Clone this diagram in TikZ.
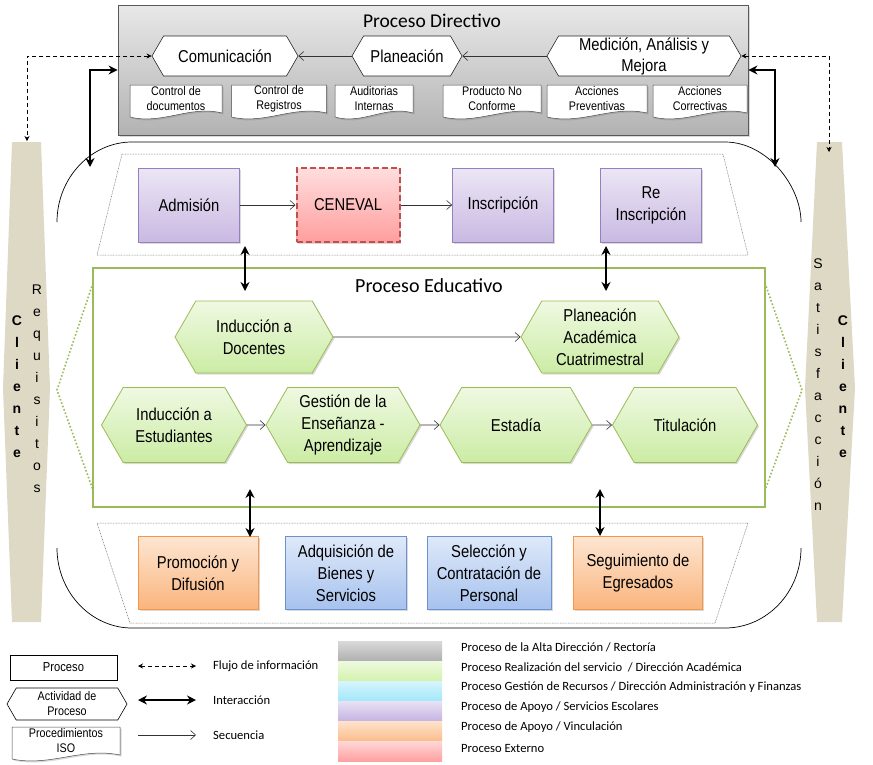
\documentclass[tikz,border=0pt]{standalone}
\usepackage{fontspec}
\setmainfont{Liberation Sans}
\newfontfamily\narrowfont{Liberation Sans}[FakeStretch=0.86]
\newfontfamily\calfont{Carlito}
\usetikzlibrary{arrows.meta,shapes.symbols,shadows,positioning}

\definecolor{purpTop}{HTML}{ECE6F5}
\definecolor{purpBot}{HTML}{C9B9E2}
\definecolor{purpLine}{HTML}{9580BF}
\definecolor{orTop}{HTML}{FDE6D2}
\definecolor{orBot}{HTML}{FAB47C}
\definecolor{orLine}{HTML}{F79646}
\definecolor{blTop}{HTML}{DFE9F9}
\definecolor{blBot}{HTML}{A6C2EE}
\definecolor{blLine}{HTML}{6A92D2}
\definecolor{redTop}{HTML}{FFDEDE}
\definecolor{redBot}{HTML}{FF9E9E}
\definecolor{redLine}{HTML}{C0504D}
\definecolor{grTop}{HTML}{EFF9E2}
\definecolor{grBot}{HTML}{CBECA4}
\definecolor{grLine}{HTML}{9BBB59}
\definecolor{beige}{HTML}{DDD9C4}

\begin{document}
\begin{tikzpicture}[x=1pt,y=-1pt,
  sombra/.style={drop shadow={opacity=0.3,shadow xshift=1.5pt,shadow yshift=-1.5pt}},
  boxtext/.style={font=\narrowfont\fontsize{17.2}{22}\selectfont, align=center, inner sep=1pt},
  escolar/.style={boxtext, sombra, draw=purpLine, line width=0.8pt, top color=purpTop, bottom color=purpBot, minimum width=101, minimum height=74},
  externo/.style={boxtext, sombra, draw=redLine, line width=2pt, dash pattern=on 6pt off 3pt, top color=redTop, bottom color=redBot, minimum width=103, minimum height=74},
  vincula/.style={boxtext, sombra, draw=orLine, line width=0.8pt, top color=orTop, bottom color=orBot, minimum height=73},
  recurso/.style={boxtext, sombra, draw=blLine, line width=0.8pt, top color=blTop, bottom color=blBot, minimum height=73},
  hexa/.style={shape=signal, signal to=east and west, signal pointer angle=120},
  directa/.style={hexa, boxtext, draw=black!85, fill=white, line width=0.6pt, minimum height=40},
  educa/.style={hexa, boxtext, sombra, draw=grLine, line width=0.8pt, top color=grTop, bottom color=grBot},
  docshape/.style={draw=black!70, fill=white, line width=0.5pt, sombra},
  doctext/.style={font=\narrowfont\fontsize{12.5}{15}\selectfont, align=center, inner sep=1pt},
  trap/.style={draw=black!55, line width=0.5pt, dash pattern=on 0.8pt off 0.8pt},
  seq/.style={-{Straight Barb[length=5pt,width=9pt]}, draw=black!80, line width=0.6pt},
  inter/.style={{Stealth[length=9pt,width=9pt]}-{Stealth[length=9pt,width=9pt]}, line width=1.8pt},
  flujo/.style={{Stealth[length=5pt,width=5pt]}-{Stealth[length=5pt,width=5pt]}, dash pattern=on 4pt off 3pt, line width=0.6pt},
  title/.style={font=\calfont\fontsize{19.5}{22}\selectfont},
  legtext/.style={font=\calfont\fontsize{12.6}{14}\selectfont, anchor=west, inner sep=0pt},
  letras/.style={font=\fontsize{14}{22}\selectfont, align=center, inner sep=0pt}
]
\useasboundingbox (0,0) rectangle (873,764);

% cliente bars
\fill[beige] (12,142) -- (41,142) -- (50,388) -- (41,622) -- (12,622) -- (3,388) -- cycle;
\fill[beige] (817,142) -- (842,142) -- (855,388) -- (842,622) -- (817,622) -- (805,388) -- cycle;
\node[letras, font=\fontsize{14}{22}\selectfont\bfseries] (clil) at (17,387) {C\\l\\i\\e\\n\\t\\e};
\node[letras] (req) at (37,389) {R\\e\\q\\u\\i\\s\\i\\t\\o\\s};
\node[letras] (sat) at (818,385) {S\\a\\t\\i\\s\\f\\a\\c\\c\\i\\ó\\n};
\node[letras, font=\fontsize{14}{22}\selectfont\bfseries] (clir) at (843,387) {C\\l\\i\\e\\n\\t\\e};
\coordinate (cliL) at (27,141);
\coordinate (cliR) at (829,152);

% outer outline
\draw[line width=0.7pt] (57,222) .. controls (57,178) and (91,142) .. (132,142) -- (725,142)
  .. controls (767,142) and (801,186) .. (801,222);
\draw[line width=0.7pt] (57,548) .. controls (57,592) and (91,628) .. (132,628) -- (725,628)
  .. controls (767,628) and (801,592) .. (801,548);

% support zones
\draw[trap] (122,154) -- (723,154) -- (748,255) -- (97,255) -- cycle;
\draw[trap] (97,523) -- (748,523) -- (715,623) -- (130,623) -- cycle;

% proceso directivo
\node[draw=black!65, line width=0.8pt, top color=black!9, bottom color=black!30, sombra,
  minimum width=630, minimum height=130] (dir) at (433,70) {};
\node[title] (dirt) at (432,21) {Proceso Directivo};
\node[directa, minimum width=146] (com) at (225,56) {Comunicación};
\node[directa, minimum width=110] (pla) at (407,56) {Planeación};
\node[directa, minimum width=194, font=\narrowfont\fontsize{17.2}{21}\selectfont] (med) at (644,56) {Medición, Análisis y\\Mejora};
\draw[seq] (pla.west) -- (com.east);
\draw[seq] (med.west) -- (pla.east);

% procedimientos ISO
\foreach \nm/\cx/\w in {cdoc/176/92, creg/279/95, aud/374/78, pnc/492/98, apre/597/100, acor/700/94}{
  \path[docshape] ({\cx-\w/2},85) -- ({\cx+\w/2},85) -- ({\cx+\w/2},113)
    .. controls +({-0.35*\w},-8) and +({0.35*\w},8) .. ({\cx-\w/2},117) -- cycle;
}
\node[doctext] (cdoc-t) at (176,99) {Control de\\documentos};
\node[doctext] (creg-t) at (279,99) {Control de\\Registros};
\node[doctext] (aud-t) at (374,99) {Auditorias\\Internas};
\node[doctext] (pnc-t) at (492,99) {Producto No\\Conforme};
\node[doctext] (apre-t) at (597,99) {Acciones\\Preventivas};
\node[doctext] (acor-t) at (700,99) {Acciones\\Correctivas};

% servicios escolares
\node[escolar] (adm) at (189,205) {Admisión};
\node[externo] (cen) at (348,205) {CENEVAL};
\node[escolar] (ins) at (503,205) {Inscripción};
\node[escolar] (rei) at (651,205) {Re\\Inscripción};
\draw[seq] (adm) -- (cen);
\draw[seq] (cen) -- (ins);

% proceso educativo
\node[draw=grLine, line width=2.5pt, minimum width=672, minimum height=239] (edu) at (429,387.5) {};
\node[title, font=\calfont\fontsize{20}{22}\selectfont] (edut) at (429,286) {Proceso Educativo};
\draw[grLine, line width=1.6pt, dotted] (93,283) -- (57,390) -- (93,490);
\draw[grLine, line width=1.6pt, dotted] (765,283) -- (802,390) -- (765,490);
\node[educa, minimum width=158, minimum height=72] (idoc) at (254,337) {Inducción a\\Docentes};
\node[educa, minimum width=158, minimum height=72] (pac) at (600,337) {Planeación\\Académica\\Cuatrimestral};
\node[educa, minimum width=145, minimum height=75] (iest) at (174,425) {Inducción a\\Estudiantes};
\node[educa, minimum width=154, minimum height=75] (gea) at (343,425) {Gestión de la\\Enseñanza -\\Aprendizaje};
\node[educa, minimum width=152, minimum height=75] (est) at (516,425) {Estadía};
\node[educa, minimum width=145, minimum height=75] (tit) at (685,425) {Titulación};
\draw[seq] (idoc) -- (pac);
\draw[seq] (iest) -- (gea);
\draw[seq] (gea) -- (est);
\draw[seq] (est) -- (tit);

% vinculacion y recursos
\node[vincula, minimum width=120] (prom) at (198,573) {Promoción y\\Difusión};
\node[recurso, minimum width=121] (adq) at (346,573) {Adquisición de\\Bienes y\\Servicios};
\node[recurso, minimum width=124] (sel) at (489,573) {Selección y\\Contratación de\\Personal};
\node[vincula, minimum width=129] (seg) at (638,573) {Seguimiento de\\Egresados};

% interactions
\coordinate (enterL) at (90,167);
\coordinate (enterR) at (775,167);
\draw[inter] (dir.west) -| (enterL);
\draw[inter] (dir.east) -| (enterR);
\draw[flujo] (com.west) -| (cliL);
\draw[flujo] (med.east) -| (cliR);
\coordinate (ia1) at (245,246);
\coordinate (ia2) at (245,291);
\coordinate (ib1) at (606,246);
\coordinate (ib2) at (606,291);
\coordinate (ic1) at (250,489);
\coordinate (ic2) at (250,537);
\coordinate (id1) at (600,489);
\coordinate (id2) at (600,536);
\draw[inter] (ia1) -- (ia2);
\draw[inter] (ib1) -- (ib2);
\draw[inter] (ic1) -- (ic2);
\draw[inter] (id1) -- (id2);

% legend
\node[draw, line width=0.6pt, minimum width=107, minimum height=25, font=\narrowfont\fontsize{13}{15}\selectfont] (lproc) at (63.5,667.5) {Proceso};
\node[hexa, draw, line width=0.6pt, minimum width=120, minimum height=32, inner sep=0pt, align=center,
  font=\narrowfont\fontsize{12.5}{15}\selectfont] (lact) at (67,704) {Actividad de\\Proceso};
\path[docshape] (12,727) -- (120,727) -- (120,755)
  .. controls +(-38,-8) and +(38,8) .. (12,759) -- cycle;
\node[doctext] (liso) at (66,741) {Procedimientos\\ISO};
\coordinate (la1) at (138,666);
\coordinate (lb1) at (196,666);
\coordinate (la2) at (138,700);
\coordinate (lb2) at (196,700);
\coordinate (la3) at (138,735);
\coordinate (lb3) at (196,735);
\draw[flujo] (la1) -- (lb1);
\draw[inter] (la2) -- (lb2);
\draw[seq] (la3) -- (lb3);
\node[legtext] (lflujo) at (213,666) {Flujo de información};
\node[legtext] (linter) at (213,700) {Interacción};
\node[legtext] (lsec) at (213,735) {Secuencia};

\foreach \i/\ct/\cb in {0/D9D9D9/B0B0B0, 1/EEFAE0/D3F2AC, 2/D6F5FD/A2E7F9, 3/E9E2F4/C4B3E2, 4/FDE3CD/FBBD8B, 5/FFD8D8/FFA0A0}{
  \definecolor{swt}{HTML}{\ct}
  \definecolor{swb}{HTML}{\cb}
  \node[top color=swt, bottom color=swb, minimum width=104, minimum height=20, inner sep=0pt] (sw\i) at (390,{651+20*\i}) {};
}
\node[legtext] (lab0) at (461,647) {Proceso de la Alta Dirección / Rectoría};
\node[legtext] (lab1) at (461,667) {Proceso Realización del servicio \ / Dirección Académica};
\node[legtext] (lab2) at (461,687) {Proceso Gestión de Recursos / Dirección Administración y Finanzas};
\node[legtext] (lab3) at (461,707) {Proceso de Apoyo / Servicios Escolares};
\node[legtext] (lab4) at (461,727) {Proceso de Apoyo / Vinculación};
\node[legtext] (lab5) at (461,748) {Proceso Externo};

\end{tikzpicture}
\end{document}
